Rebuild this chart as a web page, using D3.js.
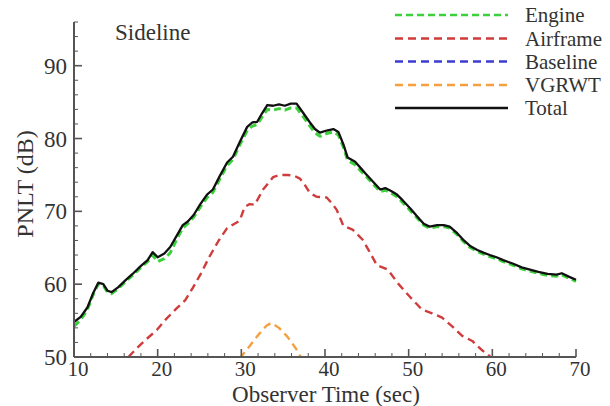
<!DOCTYPE html>
<html><head><meta charset="utf-8">
<script src="https://cdn.jsdelivr.net/npm/d3@7"></script>
<style>body{margin:0;background:#fff}svg{display:block}</style>
</head><body><svg id="c" width="610" height="406"></svg>
<script>
const timeT = [10.0,10.8,11.6,12.3,12.9,13.5,14.0,14.5,15.3,16.2,17.0,17.9,18.8,19.4,20.0,20.8,21.5,22.3,23.0,23.6,24.3,25.1,25.9,26.6,27.4,28.3,29.0,29.8,30.7,31.3,31.9,32.5,33.1,33.8,34.5,35.2,35.9,36.6,37.4,38.2,38.8,39.4,40.2,41.0,41.6,42.2,42.7,43.6,44.3,45.0,45.8,46.6,47.2,47.9,48.6,49.3,50.2,51.1,51.8,52.5,53.4,54.2,54.9,55.8,56.6,57.4,58.2,59.0,59.7,60.5,61.3,62.5,63.5,64.5,65.5,66.6,67.7,68.3,69.2,70.0];
const totalV = [54.8,55.5,56.8,58.8,60.2,60.0,59.1,58.9,59.6,60.6,61.4,62.4,63.3,64.4,63.7,64.2,65.1,66.7,68.1,68.6,69.5,71.0,72.3,73.0,74.8,76.7,77.5,79.5,81.6,82.2,82.3,83.5,84.6,84.5,84.7,84.5,84.8,84.8,83.5,82.2,81.3,80.8,81.1,81.3,80.9,79.2,77.4,76.8,75.9,75.0,74.0,73.0,73.2,72.8,72.3,71.5,70.4,69.2,68.3,67.9,68.1,68.1,67.9,67.0,66.0,65.2,64.7,64.3,64.0,63.7,63.3,62.8,62.3,62.0,61.7,61.4,61.3,61.5,61.0,60.6];
const engineV = [54.2,55.1,56.5,58.6,60.0,59.8,58.9,58.7,59.4,60.4,61.2,62.2,63.1,64.0,63.1,63.5,64.3,66.2,67.7,68.3,69.2,70.6,71.9,72.6,74.4,76.3,77.1,79.1,81.1,81.7,81.9,83.0,84.0,83.9,84.1,83.9,84.2,84.2,83.0,81.7,80.8,80.3,80.7,80.9,80.5,78.8,77.0,76.4,75.5,74.7,73.7,72.7,72.9,72.5,72.0,71.2,70.1,69.0,68.1,67.7,67.9,67.9,67.7,66.8,65.8,65.0,64.5,64.1,63.8,63.5,63.1,62.6,62.1,61.8,61.5,61.2,61.1,61.3,60.8,60.4];
const airT = [16.5,17.5,18.7,19.9,21.0,22.2,23.3,24.2,25.1,26.2,27.3,28.3,29.8,30.4,31.0,31.6,32.6,33.8,34.6,35.5,36.3,37.0,37.6,38.2,39.0,40.2,40.9,41.4,42.2,43.3,44.5,45.3,46.2,47.5,48.8,50.2,51.6,52.8,54.0,55.2,56.4,57.6,58.7,59.7,60.2];
const airframeV = [50.0,51.2,52.5,53.7,55.2,56.6,57.8,59.5,61.3,63.8,66.0,67.7,68.7,70.6,71.0,70.9,73.0,74.7,75.0,75.0,74.9,74.5,73.6,72.5,72.0,71.9,71.0,70.2,68.0,67.5,66.1,64.5,62.6,62.0,60.0,58.2,56.5,56.0,55.4,54.2,52.9,52.2,51.0,50.1,49.5];
const vgT = [29.8,31.0,32.0,33.0,33.6,34.5,35.5,36.5,37.2];
const vgrwtV = [49.8,51.5,53.0,54.3,54.7,54.0,52.8,51.2,49.8];
const baselineT = [];
const baselineV = [];
const xTicks = [10,20,30,40,50,60,70];
const yTicks = [50,60,70,80,90];
const seriesNames = ["Engine","Airframe","Baseline","VGRWT","Total"];
const seriesColors = ["#3ad13a","#d03c3c","#3c3cd0","#f5a040","#111"];

const FONT = "'Liberation Serif', 'DejaVu Serif', 'Times New Roman', serif";
const svg = d3.select("#c");
const x = d3.scaleLinear().domain([10,70]).range([74,576]);
const y = d3.scaleLinear().domain([50,96]).range([357,22]);

svg.append("defs").append("clipPath").attr("id","clip")
  .append("rect").attr("x",74).attr("y",22).attr("width",505).attr("height",335);

const g = svg.append("g").attr("clip-path","url(#clip)");
const line = d3.line().x(d=>x(d[0])).y(d=>y(d[1])).curve(d3.curveLinear);
function draw(ts, vs, color, dash, w){
  g.append("path").datum(ts.map((t,i)=>[t,vs[i]]))
   .attr("d",line).attr("fill","none").attr("stroke",color)
   .attr("stroke-width",w).attr("stroke-dasharray",dash).attr("stroke-linejoin","round");
}
draw(airT, airframeV, seriesColors[1], "8,5", 2.4);
draw(vgT, vgrwtV, seriesColors[3], "8,5", 2.4);
draw(baselineT, baselineV, seriesColors[2], "8,5", 2.4);
draw(timeT, engineV, seriesColors[0], "7,4", 3);
draw(timeT, totalV, seriesColors[4], null, 2.3);

function txt(xp, yp, s, size, anchor){
  return svg.append("text").attr("x",xp).attr("y",yp).attr("font-family",FONT)
    .attr("font-size",size).attr("fill","#333").attr("text-anchor",anchor||"start").text(s);
}

// axes
const ax = svg.append("g").attr("stroke","#555");
ax.append("line").attr("x1",x(10)).attr("x2",x(70)).attr("y1",357).attr("y2",357).attr("stroke-width",2);
ax.append("line").attr("x1",74).attr("x2",74).attr("y1",22).attr("y2",357).attr("stroke-width",2);
d3.range(10,70.1,2).forEach(v=>{
  const major = xTicks.includes(v);
  ax.append("line").attr("x1",x(v)).attr("x2",x(v)).attr("y1",357).attr("y2",357-(major?8:4)).attr("stroke-width",major?1.6:1);
});
d3.range(50,96.1,2).forEach(v=>{
  const major = yTicks.includes(v);
  ax.append("line").attr("x1",74).attr("x2",74+(major?8:4)).attr("y1",y(v)).attr("y2",y(v)).attr("stroke-width",major?1.6:1);
});
xTicks.forEach(v=>txt(x(v)+4, 376, v, 21, "middle"));
yTicks.forEach(v=>txt(67, y(v)+8, v, 23, "end"));

txt(326, 402, "Observer Time (sec)", 23, "middle");
svg.append("text").attr("transform","translate(33,184) rotate(-90)").attr("text-anchor","middle")
  .attr("font-family",FONT).attr("font-size",24).attr("fill","#333").text("PNLT (dB)");
txt(115, 40, "Sideline", 23);

// legend
const legY = [22,45.5,68.5,92,115];
const dashes = ["7,4","8,5","8,5","8,5",null];
seriesNames.forEach((n,i)=>{
  svg.append("line").attr("x1",395).attr("x2",508).attr("y1",legY[i]-7).attr("y2",legY[i]-7)
    .attr("stroke",seriesColors[i]).attr("stroke-width",2.4).attr("stroke-dasharray",dashes[i]);
  txt(525, legY[i], n, 21);
});
</script></body></html>
